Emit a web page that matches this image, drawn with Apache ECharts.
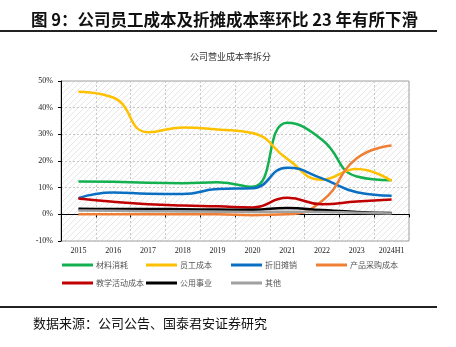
<!DOCTYPE html>
<html><head><meta charset="utf-8">
<script src="https://cdn.jsdelivr.net/npm/echarts@6/dist/echarts.min.js"></script>
<style>html,body{margin:0;padding:0;background:#fff}#c{width:456px;height:347px}</style>
</head><body><div id="c"></div>
<script>
var categories = ['2015','2016','2017','2018','2019','2020','2021','2022','2023','2024H1'];
var yTicks = [-10,0,10,20,30,40,50];
var seriesNames = ['材料消耗','员工成本','折旧摊销','产品采购成本','教学活动成本','公用事业','其他'];
var material = [12.3,12.2,11.8,11.7,12.0,10.3,34.3,28.0,14.2,12.8];
var staff = [46.0,43.8,30.8,32.6,31.8,30.5,20.8,13.0,17.0,12.5];
var depreciation = [6.1,8.2,7.7,7.6,9.5,9.8,17.5,13.5,8.3,7.0];
var purchase = [0.0,0.0,0.0,0.0,0.0,-0.3,0.0,5.0,21.0,25.8];
var teaching = [5.9,4.7,3.8,3.3,3.0,2.6,6.2,3.8,4.8,5.6];
var utilities = [2.1,2.0,2.0,1.9,1.8,1.7,2.4,1.6,0.9,0.5];
var others = [1.4,1.3,1.2,1.1,1.0,0.9,1.0,0.9,0.6,0.3];
var seriesData = [material, staff, depreciation, purchase, teaching, utilities, others];
var colors = ['#12B04F','#FFC000','#0A6FC2','#F07F36','#C00000','#000000','#A0A0A0'];

var pc = document.createElement('canvas');
pc.width = 6; pc.height = 6;
var g = pc.getContext('2d');
g.fillStyle = '#ffffff'; g.fillRect(0,0,6,6);
g.strokeStyle = '#e6e6e6'; g.lineWidth = 1;
g.beginPath(); g.moveTo(0,6); g.lineTo(6,0); g.stroke();
g.beginPath(); g.moveTo(-1,1); g.lineTo(1,-1); g.stroke();
g.beginPath(); g.moveTo(5,7); g.lineTo(7,5); g.stroke();

var chart = echarts.init(document.getElementById('c'), null, {renderer:'canvas'});
var legendPos = [[62,261],[146,261],[231,261],[316,261],[62,279],[146,279],[231,279]];
var legends = seriesNames.map(function(n,i){
  return {data:[n], left:legendPos[i][0], top:legendPos[i][1], padding:0, itemWidth:31, itemHeight:3, icon:'rect', itemGap:0,
    textStyle:{fontSize:8, color:'#555', fontFamily:'Noto Sans CJK SC', padding:[0,0,0,-2]}};
});
var serif = 'Liberation Serif';
chart.setOption({
  animation:false,
  color: colors,
  title:[{text:'图 9：公司员工成本及折摊成本率环比 23 年有所下滑', left:26, top:6,
    textStyle:{fontSize:16.5, fontWeight:'bold', color:'#111', fontFamily:'Noto Sans CJK SC'}},
    {text:'公司营业成本率拆分', left:185, top:47, textStyle:{fontSize:9, fontWeight:'normal', color:'#333', fontFamily:'Noto Sans CJK SC'}},
    {text:'数据来源：公司公告、国泰君安证券研究', left:28, top:312, textStyle:{fontSize:13, fontWeight:'normal', color:'#111', fontFamily:'Noto Sans CJK SC'}}
  ],
  legend: legends,
  grid:{left:61, right:47, top:81, bottom:106, show:true, borderColor:'#a0a0a0', borderWidth:1,
    backgroundColor:{image:pc, repeat:'repeat'}},
  xAxis:{type:'category', data:categories, boundaryGap:true,
    axisLine:{onZero:true, lineStyle:{color:'#000', width:1}},
    axisTick:{show:true, length:3, lineStyle:{color:'#000'}},
    axisLabel:{fontSize:8, color:'#222', fontFamily:serif, margin:6, interval:0},
    splitLine:{show:true, lineStyle:{color:'#c8c8c8', type:[2,2]}}
  },
  yAxis:{type:'value', min:-10, max:50, interval:10,
    axisLine:{show:true, lineStyle:{color:'#000', width:1}},
    axisTick:{show:true, length:3, inside:false, lineStyle:{color:'#000'}},
    axisLabel:{fontSize:8, color:'#222', fontFamily:serif, formatter:function(v){return v+'%';}},
    splitLine:{show:true, lineStyle:{color:'#c8c8c8', type:[2,2]}}
  },
  graphic:[
    {type:'line', shape:{x1:0,y1:31,x2:437,y2:31}, style:{stroke:'#222', lineWidth:2}},
    {type:'line', shape:{x1:0,y1:307,x2:437,y2:307}, style:{stroke:'#222', lineWidth:2}}
  ],
  series: seriesNames.map(function(n,i){
    return {name:n, type:'line', data:seriesData[i], smooth:true, symbol:'none',
      lineStyle:{width:2.5, color:colors[i]}, itemStyle:{color:colors[i]}};
  })
});
</script></body></html>
